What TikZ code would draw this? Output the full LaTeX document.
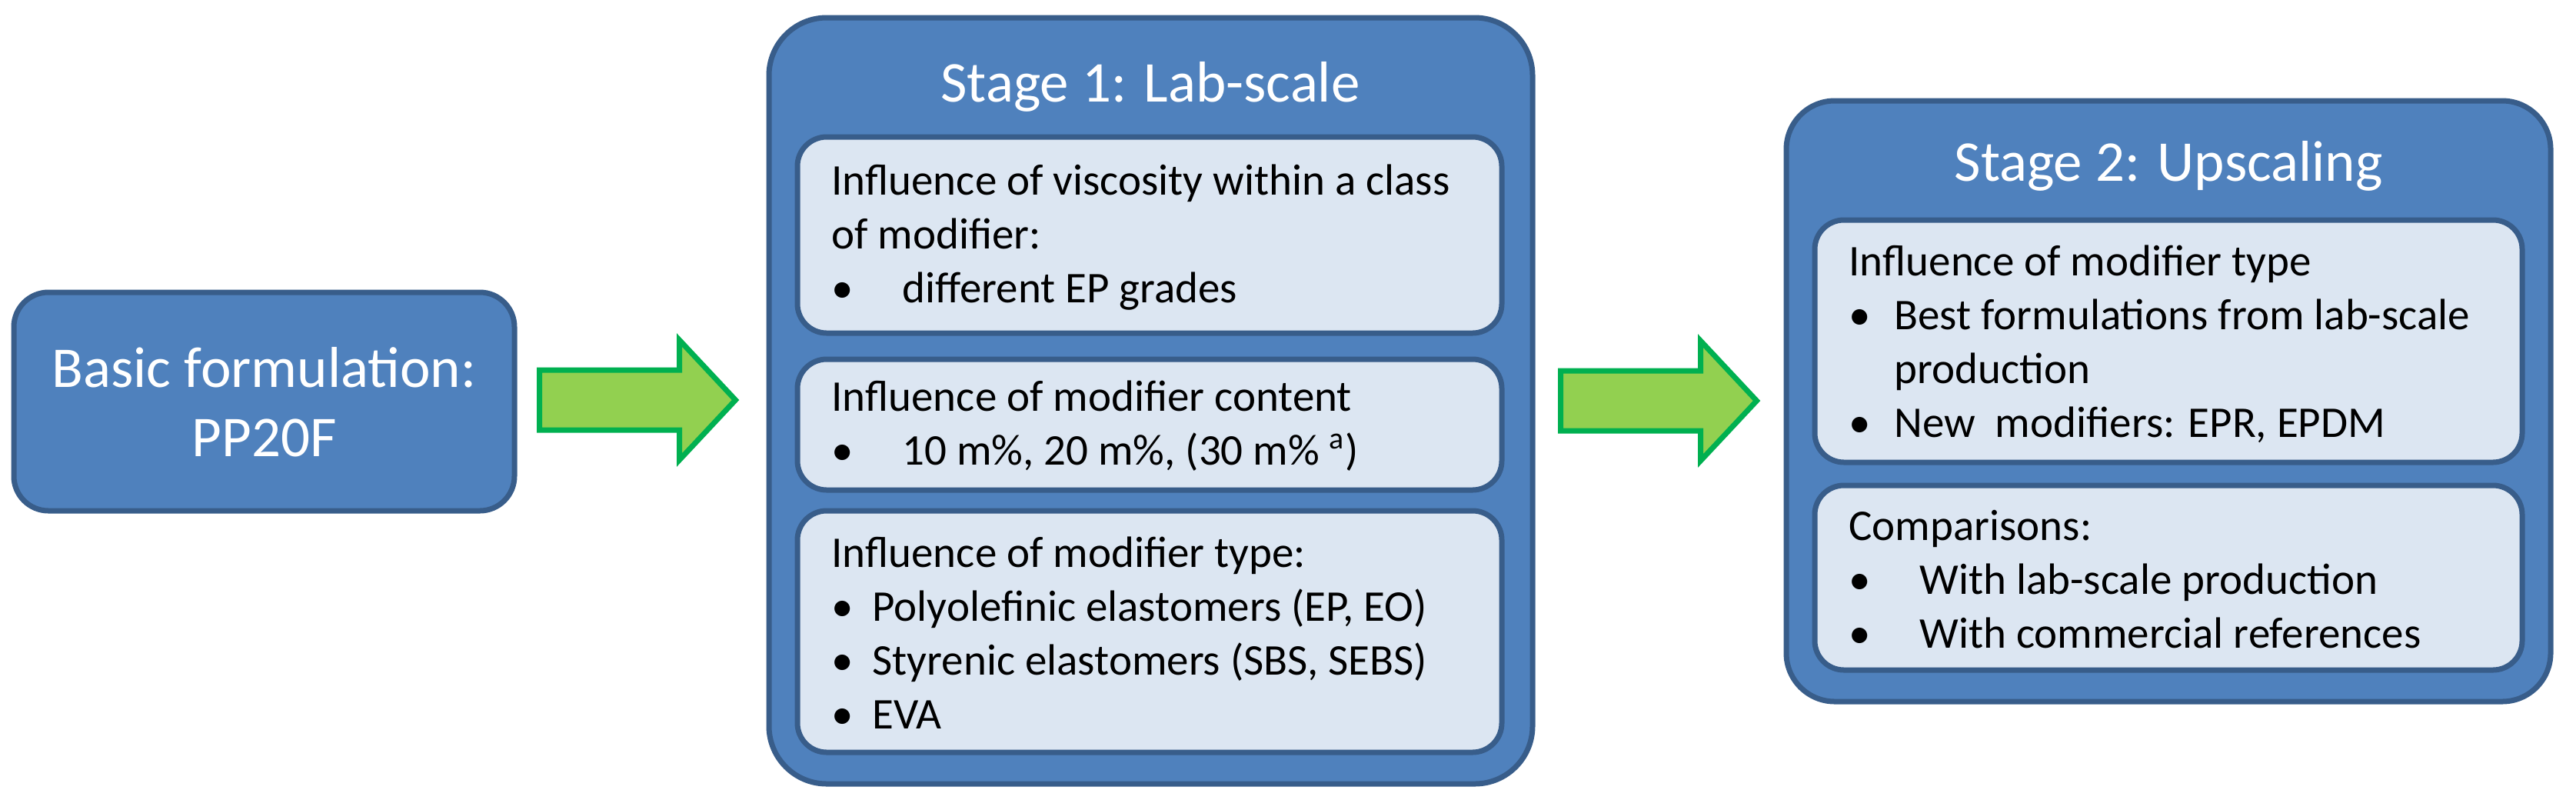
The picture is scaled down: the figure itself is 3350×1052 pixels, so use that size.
\documentclass[tikz,border=0pt]{standalone}
\usepackage{fontspec}
\setmainfont{Carlito}
\usetikzlibrary{fit,calc}

\tikzset{every picture/.style={line width=0.75pt}}
\tikzset{
  outerbox/.style={draw={rgb, 255:red, 56; green, 93; blue, 138}, fill={rgb, 255:red, 79; green, 129; blue, 189}, line width=1.75pt, inner sep=0pt},
  panel/.style={draw={rgb, 255:red, 56; green, 93; blue, 138}, fill={rgb, 255:red, 220; green, 230; blue, 242}, line width=1.75pt, rounded corners=9.5pt, inner sep=0pt},
  titletext/.style={text={rgb, 255:red, 255; green, 255; blue, 255}, font=\fontsize{18.75}{22.5}\selectfont, inner sep=0pt},
  bodytext/.style={align=left, font=\fontsize{14.25}{17.5}\selectfont, inner sep=0pt, anchor=base west},
  blockarrow/.style={draw={rgb, 255:red, 0; green, 176; blue, 80}, fill={rgb, 255:red, 146; green, 208; blue, 80}, line width=1.75pt}
}
\newcommand{\bul}[1]{\makebox[#1][l]{\textbullet}}

\begin{document}
\begin{tikzpicture}[x=0.25pt,y=0.25pt,yscale=-1,xscale=1]
\useasboundingbox (0,0) rectangle (3350,1052);

%Basic formulation (multi-line texts sit on their last baseline)
\node[outerbox, rounded corners=11.25pt, fit={(18,380) (669,664)}] (basic) {};
\node[titletext, align=center, anchor=base] (basictext) at (343.5,593) {Basic formulation:\\PP20F};

%Stage 1
\node[outerbox, rounded corners=18.75pt, fit={(1000,23) (1993,1019)}] (stage1) {};
\node[titletext, anchor=base] (s1title) at (1496,132) {Stage 1: Lab-scale};
\node[panel, fit={(1037,178) (1953,433)}] (s1p1) {};
\node[panel, fit={(1037,467) (1953,637)}] (s1p2) {};
\node[panel, fit={(1037,664) (1953,978)}] (s1p3) {};
\node[bodytext] (s1t1) at (1080,393) {Influence of viscosity within a class\\of modifier:\\\bul{23pt}different EP grades};
\node[bodytext] (s1t2) at (1080,604) {Influence of modifier content\\\bul{23pt}10 m\%, 20 m\%, (30 m\% \textsuperscript{a})};
\node[bodytext] (s1t3) at (1080,947) {Influence of modifier type:\\\bul{13.25pt}Polyolefinic elastomers (EP, EO)\\\bul{13.25pt}Styrenic elastomers (SBS, SEBS)\\\bul{13.25pt}EVA};

%Stage 2
\node[outerbox, rounded corners=15.75pt, fit={(2323,131) (3317,912)}] (stage2) {};
\node[titletext, anchor=base] (s2title) at (2820,235) {Stage 2: Upscaling};
\node[panel, fit={(2360,286) (3280,601)}] (s2p1) {};
\node[panel, fit={(2360,631) (3280,871)}] (s2p2) {};
\node[bodytext] (s2t1) at (2403,568) {Influence of modifier type\\\bul{14.75pt}Best formulations from lab-scale\\\makebox[14.75pt]{}production\\\bul{14.75pt}New\ \ modifiers: EPR, EPDM};
\node[bodytext] (s2t2) at (2403,842) {Comparisons:\\\bul{23pt}With lab-scale production\\\bul{23pt}With commercial references};

%Block arrows
\draw[blockarrow] ($(basic.east)+(29,-41)$) -- ++(182,0) -- ++(0,-39) -- ++(73,78) -- ++(-73,78) -- ++(0,-39) -- ++(-182,0) -- cycle;
\draw[blockarrow] ($(stage1.east)+(33,-39)$) -- ++(182,0) -- ++(0,-39) -- ++(73,78) -- ++(-73,78) -- ++(0,-39) -- ++(-182,0) -- cycle;

\end{tikzpicture}
\end{document}
